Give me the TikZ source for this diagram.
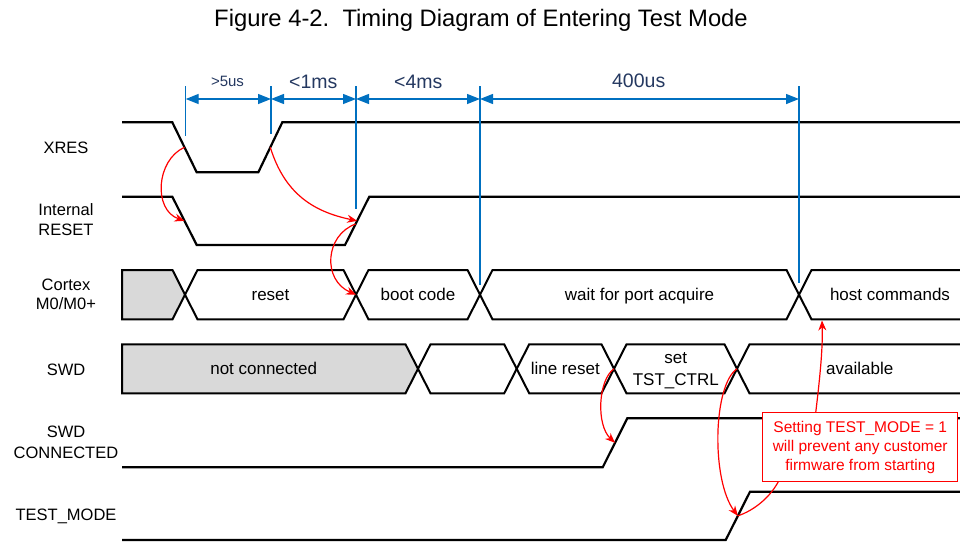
\documentclass[tikz,border=0pt]{standalone}
\usepackage{fontspec}
\setmainfont{Liberation Sans}
\usetikzlibrary{arrows.meta}
\definecolor{dimblue}{RGB}{0,112,192}
\definecolor{dimtext}{RGB}{36,56,96}
\definecolor{busgray}{RGB}{217,217,217}
\begin{document}
\begin{tikzpicture}[x=1pt,y=-1pt,
  sig/.style={line width=2.2pt, line join=miter},
  busseg/.style={line width=2pt, line join=miter},
  dimline/.style={draw=dimblue, line width=1.4pt},
  dimarrow/.style={draw=dimblue, line width=1.4pt, {Triangle[length=13pt,width=10pt]}-{Triangle[length=13pt,width=10pt]}},
  dimlabel/.style={text=dimtext, anchor=base, inner sep=0pt},
  siglabel/.style={font=\fontsize{16.5}{17}\selectfont, anchor=base, inner sep=0pt},
  bustext/.style={font=\fontsize{17}{20}\selectfont, anchor=base, inner sep=0pt},
  cause/.style={draw=red, line width=1.2pt, -{Stealth[length=10pt,width=8pt]}},
  causeline/.style={draw=red, line width=1.2pt},
  note/.style={draw=red, fill=white, line width=1.2pt, text=red, align=center, font=\fontsize{15.5}{19}\selectfont, minimum width=195pt, minimum height=69pt, inner sep=2pt}
]
\useasboundingbox (0,0) rectangle (960,544);

% title
\node[anchor=base, inner sep=0pt, font=\fontsize{23.8}{28}\selectfont] (title) at (481,26) {Figure 4-2.\hspace{0.556em}Timing Diagram of Entering Test Mode};

% left labels
\node[siglabel] (lxres) at (66,153.3) {XRES};
\node[siglabel] (lrst1) at (66,215.5) {Internal};
\node[siglabel] (lrst2) at (66,235.5) {RESET};
\node[siglabel] (lcpu1) at (66,290.5) {Cortex};
\node[siglabel] (lcpu2) at (66,309.5) {M0/M0+};
\node[siglabel] (lswd) at (66,375) {SWD};
\node[siglabel] (lcon1) at (66,437.5) {SWD};
\node[siglabel] (lcon2) at (66,458.3) {CONNECTED};
\node[siglabel] (ltm) at (66,520) {TEST\_MODE};

% XRES and Internal RESET
\draw[sig] (122,122.3) -- (172.3,122.3) -- (196.7,172.3) -- (258.3,172.3) -- (282.3,122.3) -- (961,122.3);
\draw[sig] (122,196.7) -- (172.3,196.7) -- (196.7,245) -- (345,245) -- (369.3,196.7) -- (961,196.7);
\coordinate (xf) at (184.5,147.3);
\coordinate (xr) at (270.3,147.3);
\coordinate (rf) at (184.5,220.85);
\coordinate (rr) at (357.15,220.85);
\coordinate (rr2) at (355.6,224);

% Cortex bus
\filldraw[busseg, fill=busgray] (122,270) -- (172.5,270) -- (185,294.7) -- (172.5,319.3) -- (122,319.3) -- cycle;
\draw[busseg] (185,294.7) -- (197.5,270) -- (343.5,270) -- (356,294.7) -- (343.5,319.3) -- (197.5,319.3) -- cycle;
\draw[busseg] (356,294.7) -- (368.5,270) -- (467.5,270) -- (480,294.7) -- (467.5,319.3) -- (368.5,319.3) -- cycle;
\draw[busseg] (480,294.7) -- (492.5,270) -- (786.5,270) -- (799,294.7) -- (786.5,319.3) -- (492.5,319.3) -- cycle;
\draw[busseg] (961,270) -- (811.5,270) -- (799,294.7) -- (811.5,319.3) -- (961,319.3);
\coordinate (c2) at (356,294.7);
\coordinate (hc) at (822,320.5);
\node[bustext] (treset) at (270.5,300.7) {reset};
\node[bustext] (tboot) at (418,300.7) {boot code};
\node[bustext] (twait) at (639.5,300.7) {wait for port acquire};
\node[bustext] (thost) at (890,300.7) {host commands};

% SWD bus
\filldraw[busseg, fill=busgray] (122,344.3) -- (405.5,344.3) -- (418,368.8) -- (405.5,393.3) -- (122,393.3) -- cycle;
\draw[busseg] (418,368.8) -- (430.5,344.3) -- (504.2,344.3) -- (516.7,368.8) -- (504.2,393.3) -- (430.5,393.3) -- cycle;
\draw[busseg] (516.7,368.8) -- (529.2,344.3) -- (601.5,344.3) -- (614,368.8) -- (601.5,393.3) -- (529.2,393.3) -- cycle;
\draw[busseg] (614,368.8) -- (626.5,344.3) -- (724.5,344.3) -- (737,368.8) -- (724.5,393.3) -- (626.5,393.3) -- cycle;
\draw[busseg] (961,344.3) -- (749.5,344.3) -- (737,368.8) -- (749.5,393.3) -- (961,393.3);
\coordinate (s3) at (614,368.8);
\coordinate (s4) at (737,368.8);
\node[bustext] (tnc) at (263.7,374.5) {not connected};
\node[bustext] (tlr) at (565.3,374.5) {line reset};
\node[bustext] (tset1) at (675.8,363.8) {set};
\node[bustext] (tset2) at (675.8,385.2) {TST\_CTRL};
\node[bustext] (tav) at (859.7,374.5) {available};

% SWD CONNECTED and TEST_MODE
\draw[sig] (122,467.3) -- (602.7,467.3) -- (627.3,418.3) -- (961,418.3);
\coordinate (sc) at (615,442.8);
\draw[sig] (122,540) -- (725.7,540) -- (750,491.7) -- (961,491.7);
\coordinate (tm) at (737.85,515.85);

% dimension lines
\coordinate (v1t) at (185.7,86);  \coordinate (v1b) at (185.7,136);
\coordinate (v2t) at (271,86);    \coordinate (v2b) at (271,134);
\coordinate (v3t) at (356,86);    \coordinate (v3b) at (356,209);
\coordinate (v4t) at (480,86);    \coordinate (v4b) at (480,285);
\coordinate (v5t) at (799,86);    \coordinate (v5b) at (799,283);
\draw[dimline] (v1t) -- (v1b);
\draw[dimline] (v2t) -- (v2b);
\draw[dimline] (v3t) -- (v3b);
\draw[dimline] (v4t) -- (v4b);
\draw[dimline] (v5t) -- (v5b);
\coordinate (a1) at (185.7,99);
\coordinate (a2) at (271,99);
\coordinate (a3) at (356,99);
\coordinate (a4) at (480,99);
\coordinate (a5) at (799,99);
\draw[dimarrow] (a1) -- (a2);
\draw[dimarrow] (a2) -- (a3);
\draw[dimarrow] (a3) -- (a4);
\draw[dimarrow] (a4) -- (a5);
\node[dimlabel, font=\fontsize{15}{18}\selectfont] (d1) at (227.5,86) {>5us};
\node[dimlabel, font=\fontsize{19.5}{22}\selectfont] (d2) at (313.3,88) {<1ms};
\node[dimlabel, font=\fontsize{19.5}{22}\selectfont] (d3) at (418.3,88) {<4ms};
\node[dimlabel, font=\fontsize{19.5}{22}\selectfont] (d4) at (638.7,87.5) {400us};

% cause arrows
\draw[cause] (xf) .. controls (156,160) and (153,210) .. (rf);
\draw[cause] (xr) .. controls (285,195) and (315,212) .. (rr);
\draw[cause] (rr2) .. controls (325,235) and (322,280) .. (c2);
\draw[cause] (s3) .. controls (598,380) and (596,425) .. (sc);
\draw[cause] (s4) .. controls (713,385) and (711,480) .. (tm);

% note box
\node[note] (box) at (860.2,447.2) {Setting TEST\_MODE = 1\\will prevent any customer\\firmware from starting};
\coordinate (bt) at (815.7,412.7);
\coordinate (bl) at (778.3,481.7);
\draw[cause] (bt) .. controls (819,385) and (823,350) .. (hc);
\draw[causeline] (bl) .. controls (770,497) and (755,510) .. (tm);
\end{tikzpicture}
\end{document}
